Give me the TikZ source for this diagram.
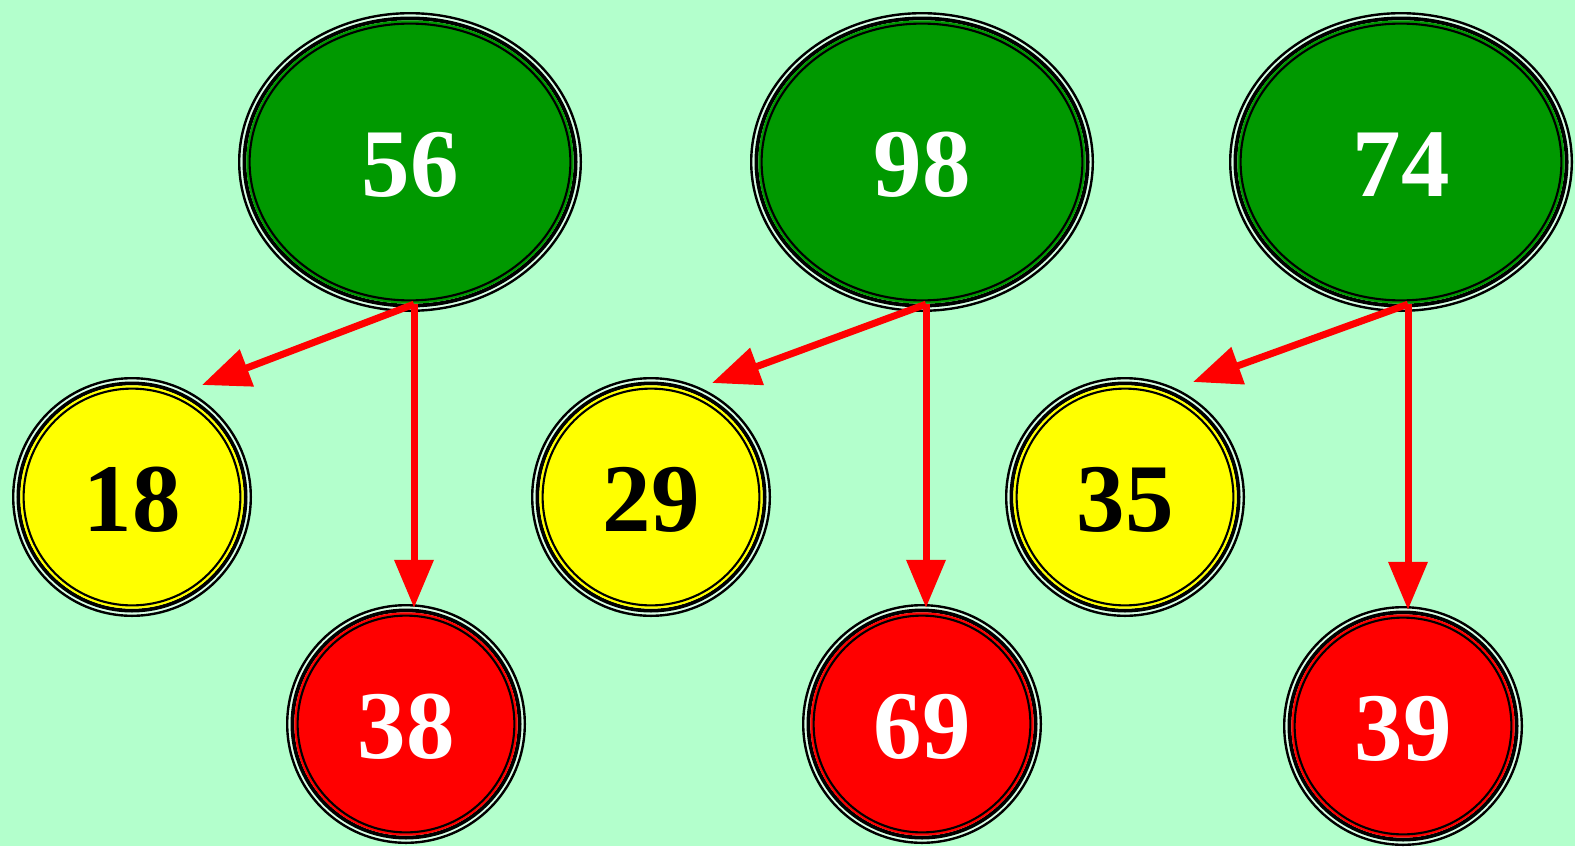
\documentclass[tikz,border=0pt]{standalone}
\usepackage{fontspec}
\setmainfont{Liberation Serif}
\usetikzlibrary{arrows.meta,shapes.geometric}
\definecolor{bgc}{HTML}{B3FFCC}
\definecolor{gapc}{HTML}{D9FFE6}
\definecolor{greenc}{HTML}{009900}
\definecolor{yellowc}{HTML}{FFFF00}
\definecolor{redc}{HTML}{FF0000}
\definecolor{arrowc}{HTML}{FF0000}
% #1 name, #2 x, #3 y, #4 rx, #5 ry, #6 fill, #7 text colour, #8 label
\newcommand\ringnode[8]{%
  \fill[gapc] (#2,#3) ellipse [x radius=#4-1, y radius=#5-1];
  \draw[black, line width=2.4bp] (#2,#3) ellipse [x radius=#4-1.2, y radius=#5-1.2];
  \draw[black, line width=3.8bp] (#2,#3) ellipse [x radius=#4-6.4, y radius=#5-6.4];
  \fill[#6] (#2,#3) ellipse [x radius=#4-8.3, y radius=#5-8.3];
  \draw[black, line width=2.1bp] (#2,#3) ellipse [x radius=#4-11.6, y radius=#5-11.6];
  \node[lbl, text=#7, minimum width=2*#4 bp, minimum height=2*#5 bp] (#1) at (#2,#3+3) {#8};
}
\begin{document}
\begin{tikzpicture}[x=1bp, y=-1bp,
  lbl/.style={ellipse, inner sep=0pt, font=\fontsize{97bp}{97bp}\selectfont\bfseries},
  edge/.style={draw=arrowc, line width=7bp, -{Triangle[length=48bp, width=38bp]}}]
\fill[bgc] (0,0) rectangle (1575,846);
\useasboundingbox (0,0) rectangle (1575,846);
% top ellipses
\ringnode{g56}{410}{162}{172}{150}{greenc}{white}{56}
\ringnode{g98}{922}{162}{172}{150}{greenc}{white}{98}
\ringnode{g74}{1401}{162}{172}{150}{greenc}{white}{74}
% yellow circles
\ringnode{y18}{132}{497}{120}{120}{yellowc}{black}{18}
\ringnode{y29}{651}{497}{120}{120}{yellowc}{black}{29}
\ringnode{y35}{1125}{497}{120}{120}{yellowc}{black}{35}
% red circles
\ringnode{r38}{406}{724}{120}{120}{redc}{white}{38}
\ringnode{r69}{922}{724}{120}{120}{redc}{white}{69}
\ringnode{r39}{1403}{726}{120}{120}{redc}{white}{39}
% arrow tails and tips
\coordinate (s56) at ([xshift=4bp, yshift=11bp]g56.south);
\coordinate (s98) at ([xshift=4bp, yshift=11bp]g98.south);
\coordinate (s74) at ([xshift=7bp, yshift=11bp]g74.south);
\coordinate (t18) at ([xshift=70bp, yshift=115bp]y18.center);
\coordinate (t29) at ([xshift=61bp, yshift=117bp]y29.center);
\coordinate (t35) at ([xshift=68bp, yshift=118bp]y35.center);
% edges
\draw[edge] (s56) -- (t18);
\draw[edge] (s56) -- ([yshift=-1bp]s56 |- r38.north);
\draw[edge] (s98) -- (t29);
\draw[edge] (s98) -- ([yshift=-1bp]s98 |- r69.north);
\draw[edge] (s74) -- (t35);
\draw[edge] (s74) -- ([yshift=-1bp]s74 |- r39.north);
\end{tikzpicture}
\end{document}
